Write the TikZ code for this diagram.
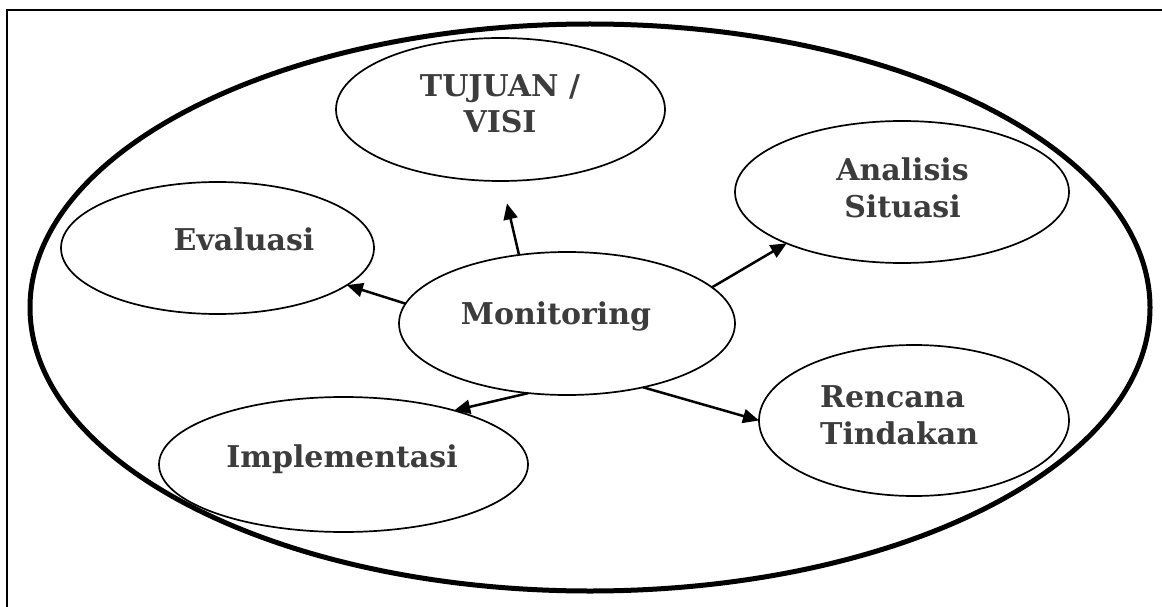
\documentclass[tikz,border=0pt]{standalone}
\usepackage{fontspec}
\setmainfont{DejaVu Serif}
\usetikzlibrary{arrows.meta,shapes.geometric}
\definecolor{txt}{RGB}{60,60,60}
\begin{document}
\begin{tikzpicture}[x=1pt,y=-1pt,
  bubble/.style={draw, ellipse, line width=1.7pt, inner sep=0pt, outer sep=0pt},
  lbl/.style={font=\bfseries\fontsize{30}{36.5}\selectfont, text=txt, inner sep=0pt, anchor=base},
  arr/.style={-{Triangle[length=16pt,width=14pt]}, line width=2.5pt}]
\useasboundingbox (0,0) rectangle (1162,607);
\fill[white] (0,0) rectangle (1162,607);
\draw[line width=2.5pt] (7,640) -- (7,10) -- (1190,10);
\node[bubble, line width=5pt, minimum width=1120pt, minimum height=567pt] (outer) at (590,307.5) {};
\node[bubble, minimum width=329pt, minimum height=143pt] (tuj) at (500.5,109.5) {};
\node[bubble, minimum width=313pt, minimum height=132pt] (eva) at (217.5,248) {};
\node[bubble, minimum width=369pt, minimum height=135pt] (imp) at (343.5,464.5) {};
\node[bubble, minimum width=334pt, minimum height=142pt] (ana) at (902,192) {};
\node[bubble, minimum width=310pt, minimum height=151pt] (ren) at (914,420.5) {};
\node[bubble, minimum width=336pt, minimum height=143pt] (mon) at (567,323.5) {};
\node[lbl, align=center] (tujt) at (500,133) {TUJUAN /\\VISI};
\node[lbl, align=center] (anat) at (902.5,217) {Analisis\\Situasi};
\node[lbl, align=left, anchor=base west] (rent) at (820,444) {Rencana\\Tindakan};
\node[lbl] (mont) at (556,324) {Monitoring};
\node[lbl] (evat) at (244,250) {Evaluasi};
\node[lbl] (impt) at (342,467) {Implementasi};
\draw[arr, shorten >=23pt] (mon.125.3) -- (tuj.271.5);
\draw[arr] (mon.173.3) -- (eva.344.4);
\draw[arr] (mon.14.6) -- (ana.204.2);
\draw[arr] (mon.320) -- (ren.west);
\draw[arr] (mon.241.7) -- (imp.26.7);
\end{tikzpicture}
\end{document}
